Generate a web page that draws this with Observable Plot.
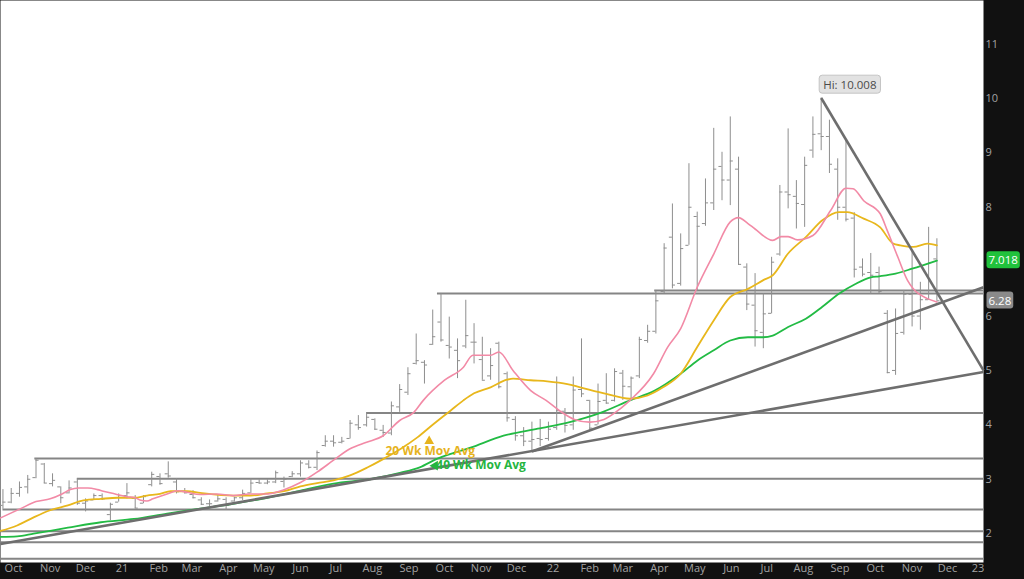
<!DOCTYPE html>
<html><head><meta charset="utf-8">
<script src="https://cdn.jsdelivr.net/npm/d3@7"></script>
<script src="https://cdn.jsdelivr.net/npm/@observablehq/plot@0.6"></script>
<style>
html,body{margin:0;padding:0;background:#111;}
</style></head>
<body><div id="chart"></div>
<script>
// Weekly OHLC: [week, open, high, low, close]
const ohlcRows = [
["2020-09-28",2.52,2.81,2.45,2.58],["2020-10-05",2.58,2.83,2.55,2.74],["2020-10-12",2.74,2.95,2.67,2.85],
["2020-10-19",2.86,3.07,2.73,3.00],["2020-10-26",3.03,3.38,3.01,3.35],["2020-11-02",3.28,3.29,2.92,2.93],
["2020-11-09",2.92,3.10,2.86,2.98],["2020-11-16",2.86,2.86,2.55,2.66],["2020-11-23",2.75,2.97,2.73,2.84],
["2020-11-30",2.95,3.01,2.52,2.56],["2020-12-07",2.56,2.64,2.40,2.60],["2020-12-14",2.62,2.73,2.61,2.70],
["2020-12-21",2.70,2.73,2.61,2.64],["2020-12-28",2.35,2.56,2.24,2.54],["2021-01-04",2.58,2.73,2.58,2.70],
["2021-01-11",2.70,2.92,2.64,2.75],["2021-01-18",2.65,2.70,2.46,2.47],["2021-01-25",2.56,2.70,2.55,2.68],
["2021-02-01",2.90,3.13,2.86,3.09],["2021-02-08",3.05,3.10,2.89,2.92],["2021-02-15",3.10,3.32,3.02,3.06],
["2021-02-22",2.95,3.01,2.73,2.77],["2021-03-01",2.78,2.83,2.73,2.75],["2021-03-08",2.72,2.79,2.64,2.66],
["2021-03-15",2.62,2.66,2.52,2.54],["2021-03-22",2.55,2.62,2.50,2.55],["2021-03-29",2.60,2.70,2.58,2.64],
["2021-04-05",2.63,2.66,2.43,2.52],["2021-04-12",2.60,2.67,2.58,2.66],["2021-04-19",2.66,2.80,2.61,2.74],
["2021-04-26",2.75,3.01,2.74,2.93],["2021-05-03",2.94,2.99,2.91,2.93],["2021-05-10",2.93,2.99,2.90,2.95],
["2021-05-17",2.95,3.15,2.92,3.12],["2021-05-24",2.96,3.04,2.84,3.00],["2021-05-31",3.05,3.14,3.03,3.10],
["2021-06-07",3.10,3.34,3.04,3.30],["2021-06-14",3.28,3.34,3.19,3.22],["2021-06-21",3.22,3.52,3.16,3.49],
["2021-06-28",3.62,3.80,3.59,3.70],["2021-07-05",3.70,3.80,3.59,3.67],["2021-07-12",3.68,3.77,3.65,3.70],
["2021-07-19",3.75,4.08,3.74,4.03],["2021-07-26",4.00,4.17,3.90,3.95],["2021-08-02",4.00,4.22,3.96,4.14],
["2021-08-09",4.10,4.11,3.90,3.92],["2021-08-16",3.90,3.99,3.77,3.86],["2021-08-23",3.85,4.42,3.80,4.35],
["2021-08-30",4.33,4.74,4.23,4.65],["2021-09-06",4.60,5.05,4.54,4.94],["2021-09-13",5.13,5.67,5.10,5.18],
["2021-09-20",5.15,5.18,4.75,5.10],["2021-09-27",5.48,6.11,5.46,5.62],["2021-10-04",5.89,6.415,5.52,5.56],
["2021-10-11",5.46,5.98,5.21,5.43],["2021-10-18",5.37,5.58,4.85,5.18],["2021-10-25",5.45,6.29,5.40,5.64],
["2021-11-01",5.52,5.86,5.12,5.52],["2021-11-08",5.20,5.61,4.82,4.82],["2021-11-15",4.90,5.40,4.82,5.09],
["2021-11-22",5.50,5.52,4.66,4.70],["2021-11-29",4.94,4.97,4.05,4.13],["2021-12-06",4.10,4.15,3.70,3.80],
["2021-12-13",3.80,3.95,3.60,3.70],["2021-12-20",3.70,4.05,3.51,3.73],["2021-12-27",3.75,4.10,3.60,3.73],
["2022-01-03",3.75,4.05,3.70,3.92],["2022-01-10",3.95,4.88,3.90,4.26],["2022-01-17",4.25,4.30,3.85,3.99],
["2022-01-24",4.00,4.88,3.90,4.64],["2022-01-31",4.65,5.58,4.50,4.57],["2022-02-07",4.45,4.45,3.90,3.94],
["2022-02-14",4.00,4.75,4.00,4.43],["2022-02-21",4.45,4.94,4.38,4.40],["2022-02-28",4.45,5.03,4.42,4.98],
["2022-03-07",4.95,5.00,4.45,4.71],["2022-03-14",4.70,4.88,4.45,4.86],["2022-03-21",4.90,5.61,4.85,5.57],
["2022-03-28",5.55,5.83,5.50,5.72],["2022-04-04",5.72,6.47,5.67,6.28],["2022-04-11",6.45,7.33,6.41,7.25],
["2022-04-18",7.45,8.06,6.50,6.57],["2022-04-25",6.60,7.51,6.55,7.24],["2022-05-02",7.30,8.80,7.30,8.00],
["2022-05-09",7.83,7.91,6.45,7.65],["2022-05-16",7.70,8.52,7.65,8.08],["2022-05-23",8.08,9.45,7.94,8.70],
["2022-05-30",8.75,9.01,8.12,8.50],["2022-06-06",8.50,9.66,8.03,8.85],["2022-06-13",8.70,8.92,6.93,6.95],
["2022-06-20",6.90,6.96,6.10,6.22],["2022-06-27",6.20,6.78,5.43,5.73],["2022-07-04",5.70,6.41,5.40,6.04],
["2022-07-11",6.05,7.08,6.04,6.99],["2022-07-18",7.14,8.40,7.10,8.28],["2022-07-25",8.28,9.44,7.97,8.23],
["2022-08-01",8.20,8.49,7.60,8.07],["2022-08-08",8.05,8.92,7.63,8.77],["2022-08-15",9.05,9.66,8.90,9.34],
["2022-08-22",9.35,10.008,9.04,9.30],["2022-08-29",9.30,9.60,8.62,8.79],["2022-09-05",8.70,8.89,7.76,8.00],
["2022-09-12",8.00,9.23,7.73,7.78],["2022-09-19",7.80,7.90,6.70,6.86],["2022-09-26",6.90,7.05,6.72,6.77],
["2022-10-03",6.80,7.15,6.40,6.75],["2022-10-10",6.80,6.90,6.41,6.45],["2022-10-17",6.05,6.10,4.94,4.96],
["2022-10-24",5.00,6.13,4.91,5.68],["2022-10-31",5.70,6.47,5.65,6.40],["2022-11-07",6.40,7.20,5.80,6.00],
["2022-11-14",6.00,6.62,5.74,6.30],["2022-11-21",6.30,7.63,6.29,6.98],["2022-11-28",7.05,7.42,6.28,6.28]
];

// 10-week (pink) moving average
const maShort = [
["2020-09-26",2.29],["2020-10-13",2.46],["2020-10-26",2.59],["2020-11-07",2.64],["2020-11-17",2.73],
["2020-11-24",2.81],["2020-12-01",2.84],["2020-12-09",2.84],["2020-12-17",2.81],["2020-12-22",2.78],
["2021-01-01",2.73],["2021-01-11",2.68],["2021-01-18",2.66],["2021-01-22",2.62],["2021-01-28",2.60],
["2021-02-02",2.64],["2021-02-14",2.73],["2021-02-23",2.79],["2021-03-03",2.76],["2021-03-14",2.72],
["2021-03-28",2.73],["2021-04-11",2.70],["2021-04-25",2.73],["2021-05-10",2.73],["2021-05-23",2.80],
["2021-06-07",2.94],["2021-06-21",3.13],["2021-07-05",3.35],["2021-07-19",3.56],["2021-08-02",3.68],
["2021-08-16",3.80],["2021-08-30",4.08],["2021-09-11",4.23],["2021-09-19",4.45],["2021-10-07",4.82],
["2021-10-23",5.06],["2021-10-31",5.28],["2021-11-15",5.28],["2021-11-22",5.34],["2021-12-04",5.00],
["2021-12-19",4.63],["2022-01-01",4.45],["2022-01-13",4.25],["2022-01-25",4.10],["2022-02-07",4.05],
["2022-02-19",4.10],["2022-03-05",4.30],["2022-03-13",4.45],["2022-04-02",4.94],["2022-04-14",5.43],
["2022-04-25",5.77],["2022-05-09",6.53],["2022-05-23",7.14],["2022-06-06",7.73],["2022-06-13",7.81],
["2022-06-21",7.70],["2022-06-27",7.60],["2022-07-12",7.39],["2022-07-19",7.46],["2022-07-25",7.46],
["2022-08-02",7.40],["2022-08-15",7.48],["2022-08-30",7.94],["2022-09-12",8.35],["2022-09-18",8.34],
["2022-09-27",8.12],["2022-10-11",7.88],["2022-10-17",7.57],["2022-10-26",7.08],["2022-11-03",6.66],
["2022-11-08",6.50],["2022-11-20",6.32],["2022-11-28",6.26]
];

// 20-week (gold) moving average
const ma20 = [
["2020-09-26",2.05],["2020-10-10",2.15],["2020-10-24",2.30],["2020-11-07",2.43],["2020-11-22",2.52],
["2020-12-05",2.61],["2020-12-20",2.64],["2021-01-03",2.66],["2021-01-17",2.66],["2021-01-28",2.70],
["2021-02-08",2.73],["2021-02-17",2.78],["2021-03-03",2.78],["2021-03-14",2.75],["2021-04-11",2.70],
["2021-04-26",2.70],["2021-05-10",2.74],["2021-05-24",2.78],["2021-06-07",2.87],["2021-06-21",2.93],
["2021-07-05",2.98],["2021-07-19",3.07],["2021-08-03",3.22],["2021-08-16",3.37],["2021-08-31",3.56],
["2021-09-14",3.77],["2021-09-28",4.02],["2021-10-12",4.26],["2021-10-23",4.45],["2021-11-01",4.58],
["2021-11-15",4.69],["2021-11-29",4.83],["2021-12-04",4.85],["2021-12-19",4.82],["2022-01-02",4.80],
["2022-01-19",4.75],["2022-01-30",4.69],["2022-02-21",4.57],["2022-03-13",4.48],["2022-03-28",4.54],
["2022-04-10",4.69],["2022-04-25",4.94],["2022-05-09",5.43],["2022-05-23",5.92],["2022-06-06",6.35],
["2022-06-21",6.50],["2022-07-04",6.66],["2022-07-12",6.75],["2022-07-25",7.15],["2022-08-09",7.45],
["2022-08-23",7.76],["2022-09-06",7.91],["2022-09-13",7.91],["2022-09-27",7.79],["2022-10-11",7.63],
["2022-10-22",7.33],["2022-10-28",7.30],["2022-11-08",7.27],["2022-11-20",7.33],["2022-11-28",7.30]
];

// 40-week (green) moving average
const ma40 = [
["2020-09-26",1.94],["2020-10-10",1.95],["2020-10-24",2.00],["2020-11-22",2.11],["2020-12-20",2.21],
["2021-01-17",2.27],["2021-02-14",2.37],["2021-03-14",2.46],["2021-04-11",2.55],["2021-05-10",2.66],
["2021-06-07",2.79],["2021-07-05",2.92],["2021-08-05",3.00],["2021-08-31",3.12],["2021-09-16",3.22],
["2021-10-01",3.38],["2021-10-29",3.58],["2021-11-26",3.80],["2021-12-25",3.93],["2022-01-21",4.05],
["2022-02-16",4.22],["2022-03-13",4.45],["2022-04-03",4.63],["2022-04-25",4.94],["2022-05-09",5.18],
["2022-05-23",5.37],["2022-06-06",5.55],["2022-06-21",5.61],["2022-07-04",5.61],["2022-07-12",5.64],
["2022-07-25",5.80],["2022-08-09",5.95],["2022-08-23",6.17],["2022-09-06",6.41],["2022-09-20",6.59],
["2022-10-03",6.71],["2022-10-10",6.73],["2022-10-24",6.78],["2022-11-07",6.87],["2022-11-28",7.02]
];

// Horizontal support / resistance levels: [start, level]
const levels = [
["2021-10-01",6.415],["2022-04-03",6.47],["2021-08-02",4.22],["2020-10-25",3.38],
["2020-11-30",3.01],["2020-09-28",2.445],["2020-09-25",2.046],["2020-09-25",1.844],["2020-09-25",1.539]
];

// Trend lines: [start, startValue, end, endValue]
const trendLines = [
["2020-09-25",1.81,"2023-01-07",4.97],
["2021-12-20",3.51,"2023-01-07",6.53],
["2022-08-22",10.008,"2023-01-07",5.00]
];

// Month tick labels
const monthTicks = [
["2020-10-01","Oct"],["2020-11-01","Nov"],["2020-12-01","Dec"],["2021-01-01","21"],["2021-02-01","Feb"],
["2021-03-01","Mar"],["2021-04-01","Apr"],["2021-05-01","May"],["2021-06-01","Jun"],["2021-07-01","Jul"],
["2021-08-01","Aug"],["2021-09-01","Sep"],["2021-10-01","Oct"],["2021-11-01","Nov"],["2021-12-01","Dec"],
["2022-01-01","22"],["2022-02-01","Feb"],["2022-03-01","Mar"],["2022-04-01","Apr"],["2022-05-01","May"],
["2022-06-01","Jun"],["2022-07-01","Jul"],["2022-08-01","Aug"],["2022-09-01","Sep"],["2022-10-01","Oct"],
["2022-11-01","Nov"],["2022-12-01","Dec"],["2023-01-01","23"]
];
const yTicks = [2,3,4,5,6,8,9,10,11];

// Annotations
const hiLabel = {date: "2022-08-22", value: 10.008, text: "Hi: 10.008"};
const lastValues = [
  {value: 7.018, text: "7.018", fill: "#21c23c"},
  {value: 6.28, text: "6.28", fill: "#8a8a8a"}
];
const maLabels = [
  {date: "2021-08-18", value: 3.51, text: "20 Wk Mov Avg", color: "#e6b31e"},
  {date: "2021-09-30", value: 3.25, text: "40 Wk Mov Avg", color: "#25b53f"}
];
const maMarkers = [
  {date: "2021-09-24", value: 3.70, color: "#e6b31e", rotate: 0},
  {date: "2021-09-29", value: 3.25, color: "#25b53f", rotate: -90}
];

// ---- build ----
const D = s => new Date(s + "T00:00:00Z");
const shiftDays = (d, n) => new Date(+d + n * 864e5);
const bars = ohlcRows.map(([d,o,h,l,c]) => ({date: D(d), open:o, high:h, low:l, close:c}));
const toPts = arr => arr.map(([d,v]) => ({date: D(d), v}));
const xStart = new Date("2020-09-25T22:10:00Z");
const xEnd = new Date("2023-01-06T11:20:00Z");
const lv = levels.map(([s,v]) => ({start: D(s) < xStart ? xStart : D(s), v}));
const tl = trendLines.map(([a,va,b,vb]) => ({x1: D(a) < xStart ? xStart : D(a), y1: va, x2: D(b) > xEnd ? xEnd : D(b), y2: vb}));
const mt = monthTicks.map(([d,t]) => ({date: D(d), t}));
const barColor = "#8e8e8e";
const tickLen = 2.6;

const chart = Plot.plot({
  width: 1024, height: 579,
  marginLeft: 0, marginRight: 41, marginTop: 0, marginBottom: 17,
  style: {background: "#111", fontFamily: "'Open Sans', sans-serif", fontSize: "11px", color: "#a3a3a3"},
  x: {type: "utc", domain: [xStart, xEnd], axis: null},
  y: {domain: [1.47, 11.8]},
  marks: [
    Plot.frame({fill: "white", stroke: null}),
    Plot.ruleY(lv, {y: "v", x1: "start", x2: () => xEnd, stroke: "#858585", strokeWidth: 2}),
    Plot.ruleX(bars, {x: "date", y1: "low", y2: "high", stroke: barColor, strokeWidth: 1}),
    Plot.ruleY(bars, {y: "open", x1: d => shiftDays(d.date, -tickLen), x2: "date", stroke: barColor, strokeWidth: 1}),
    Plot.ruleY(bars, {y: "close", x1: "date", x2: d => shiftDays(d.date, tickLen), stroke: barColor, strokeWidth: 1}),
    Plot.line(toPts(ma40), {x: "date", y: "v", stroke: "#22bb44", strokeWidth: 1.8, curve: "monotone-x"}),
    Plot.line(toPts(ma20), {x: "date", y: "v", stroke: "#e8b71c", strokeWidth: 1.8, curve: "monotone-x"}),
    Plot.line(toPts(maShort), {x: "date", y: "v", stroke: "#f28aa6", strokeWidth: 1.6, curve: "monotone-x"}),
    Plot.link(tl, {x1: "x1", y1: "y1", x2: "x2", y2: "y2", stroke: "#6e6e6e", strokeWidth: 2.6}),
    Plot.dot(maMarkers, {x: d => D(d.date), y: "value", symbol: "triangle", r: 3.6, fill: "color", stroke: null, rotate: "rotate"}),
    Plot.text(maLabels, {x: d => D(d.date), y: "value", text: "text", fill: "color", textAnchor: "start",
      fontWeight: "bold", fontSize: 12, lineHeight: 0.9}),
    Plot.axisY(yTicks, {anchor: "right", tickSize: 0, tickPadding: 2, label: null, fontSize: 11, tickFormat: d3.format("d")}),
    Plot.text(mt.slice(0, -1), {x: "date", text: "t", frameAnchor: "bottom", dy: 9, dx: 7, fill: "#a3a3a3", fontSize: 11}),
    Plot.text(mt.slice(-1), {x: "date", text: "t", frameAnchor: "bottom", dy: 9, dx: 1, fill: "#a3a3a3", fontSize: 11}),
    Plot.text([hiLabel], {x: d => D(d.date), y: "value", text: "text", dx: 2, dy: -13, textAnchor: "start", fill: "#4a4a4a", fontSize: 11.5}),
    Plot.text(lastValues, {x: () => xEnd, y: "value", text: "text", dx: 5, textAnchor: "start", fill: "white", fontSize: 11.5})
  ]
});
document.getElementById("chart").appendChild(chart);

// label boxes behind selected texts
const boxStyle = {
  "Hi: 10.008": {fill: "#e2e2e2", stroke: "#c4c4c4", px: 4, py: 1.5},
  "7.018": {fill: "#21c23c", stroke: null, px: 2, py: 1},
  "6.28": {fill: "#8a8a8a", stroke: null, px: 2, py: 1}
};
d3.select(chart).selectAll("text").each(function() {
  const st = boxStyle[this.textContent];
  if (!st) return;
  const b = this.getBBox();
  const r = document.createElementNS("http://www.w3.org/2000/svg", "rect");
  r.setAttribute("x", b.x - st.px);
  r.setAttribute("y", b.y - st.py);
  r.setAttribute("width", b.width + 2 * st.px);
  r.setAttribute("height", b.height + 2 * st.py);
  r.setAttribute("rx", 3);
  r.setAttribute("fill", st.fill);
  if (st.stroke) r.setAttribute("stroke", st.stroke);
  const tr = this.getAttribute("transform");
  if (tr) r.setAttribute("transform", tr);
  this.parentNode.insertBefore(r, this);
  if (this.textContent === "Hi: 10.008") {
    const X = chart.scale("x"), Y = chart.scale("y");
    const hx = X.apply(D(hiLabel.date)), hy = Y.apply(hiLabel.value);
    const m = /translate\(([-\d.]+),\s*([-\d.]+)\)/.exec(tr || "");
    const ox = m ? +m[1] : 0, oy = m ? +m[2] : 0;
    const bx = ox + b.x - st.px, by = oy + b.y - st.py + b.height + 2 * st.py;
    const p = document.createElementNS("http://www.w3.org/2000/svg", "path");
    p.setAttribute("d", `M${bx + 2},${by - 1}L${bx + 8},${by - 1}L${hx},${hy}Z`);
    p.setAttribute("fill", st.fill);
    p.setAttribute("stroke", "#b0b0b0");
    p.setAttribute("stroke-width", 0.6);
    this.parentNode.insertBefore(p, r);
  }
});
</script>
</body></html>
